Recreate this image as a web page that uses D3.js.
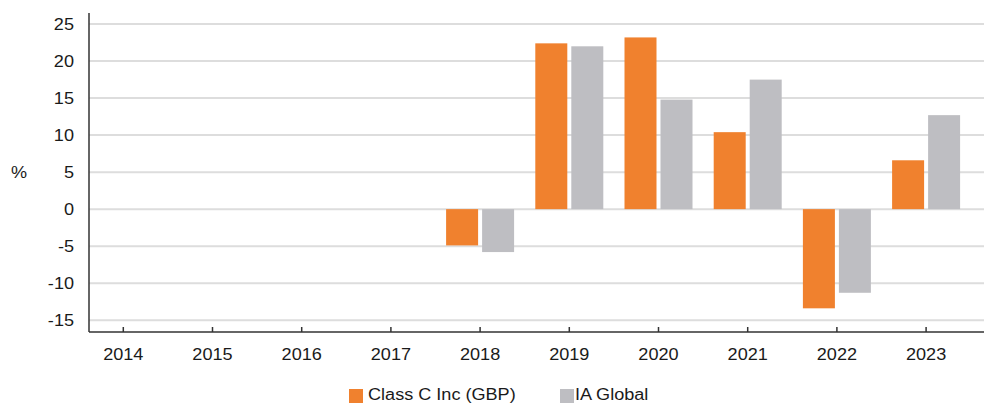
<!DOCTYPE html>
<html>
<head>
<meta charset="utf-8">
<script src="https://cdn.jsdelivr.net/npm/d3@7"></script>
<style>
  body { margin: 0; background: #fff; }
  text { font-family: "Liberation Sans", Arial, sans-serif; fill: #1a1a1a; font-size: 16px; }
</style>
</head>
<body>
<svg id="chart" width="984" height="403"></svg>
<script>
var years = ['2014', '2015', '2016', '2017', '2018', '2019', '2020', '2021', '2022', '2023'];
var classC = [null, null, null, null, -4.9, 22.4, 23.2, 10.4, -13.4, 6.6];
var iaGlobal = [null, null, null, null, -5.8, 22.0, 14.8, 17.5, -11.3, 12.7];
var yTicks = [-15, -10, -5, 0, 5, 10, 15, 20, 25];
var seriesNames = ['Class C Inc (GBP)', 'IA Global'];
var colors = ['#f0812e', '#bebec2'];

var svg = d3.select('#chart');
var m = {left: 89, right: 984, top: 13, bottom: 332};

var x = d3.scaleBand().domain(years).range([78.7, 970.7]);
var y = d3.scaleLinear().domain([-16.6, 26.5]).range([m.bottom, m.top]);
var barW = 32, gap = 4;

// gridlines
svg.append('g').selectAll('line')
  .data(yTicks)
  .join('line')
  .attr('x1', m.left).attr('x2', m.right)
  .attr('y1', function(d){ return y(d); })
  .attr('y2', function(d){ return y(d); })
  .attr('stroke', '#dddddd')
  .attr('stroke-width', 2);

// y labels
svg.append('g').selectAll('text')
  .data(yTicks)
  .join('text')
  .attr('class', 'lbl')
  .attr('x', 74)
  .attr('y', function(d){ return y(d) + 5.5; })
  .attr('text-anchor', 'end')
  .text(function(d){ return d; });

svg.append('text')
  .attr('class', 'lbl')
  .attr('x', 19).attr('y', y(5) + 5.5)
  .attr('text-anchor', 'middle')
  .text('%');

// bars
var series = [classC, iaGlobal];
series.forEach(function(vals, s){
  svg.append('g').selectAll('rect')
    .data(years.map(function(yr, i){ return {yr: yr, v: vals[i]}; }).filter(function(d){ return d.v != null; }))
    .join('rect')
    .attr('x', function(d){ return x(d.yr) + x.bandwidth()/2 - barW - gap/2 + s*(barW + gap); })
    .attr('width', barW)
    .attr('y', function(d){ return Math.min(y(d.v), y(0)); })
    .attr('height', function(d){ return Math.abs(y(d.v) - y(0)); })
    .attr('fill', colors[s]);
});

// axis lines
svg.append('line')
  .attr('x1', m.left).attr('x2', m.left).attr('y1', m.top).attr('y2', m.bottom)
  .attr('stroke', '#333').attr('stroke-width', 1.5);
svg.append('line')
  .attr('x1', m.left).attr('x2', m.right).attr('y1', m.bottom).attr('y2', m.bottom)
  .attr('stroke', '#333').attr('stroke-width', 1.5);

// x ticks + labels
var xg = svg.append('g');
xg.selectAll('line')
  .data(years)
  .join('line')
  .attr('x1', function(d){ return x(d) + x.bandwidth()/2; })
  .attr('x2', function(d){ return x(d) + x.bandwidth()/2; })
  .attr('y1', m.bottom - 5).attr('y2', m.bottom)
  .attr('stroke', '#333').attr('stroke-width', 1.5);
xg.selectAll('text')
  .data(years)
  .join('text')
  .attr('class', 'lbl')
  .attr('x', function(d){ return x(d) + x.bandwidth()/2; })
  .attr('y', 360)
  .attr('text-anchor', 'middle')
  .text(function(d){ return d; });

// legend
var legendX = [349, 560];
var lg = svg.append('g').selectAll('g')
  .data(seriesNames)
  .join('g')
  .attr('transform', function(d, i){ return 'translate(' + legendX[i] + ',389)'; });
lg.append('rect')
  .attr('width', 14).attr('height', 14)
  .attr('fill', function(d, i){ return colors[i]; });
lg.append('text')
  .attr('class', 'lbl')
  .attr('x', function(d, i){ return i == 0 ? 19 : 15; })
  .attr('y', 11)
  .text(function(d){ return d; });

// reference type is a bit wider than Liberation Sans, stretch it a little
svg.selectAll('text.lbl').each(function(){
  var w = this.getComputedTextLength();
  d3.select(this).attr('textLength', w * 1.13).attr('lengthAdjust', 'spacingAndGlyphs');
});
</script>
</body>
</html>
